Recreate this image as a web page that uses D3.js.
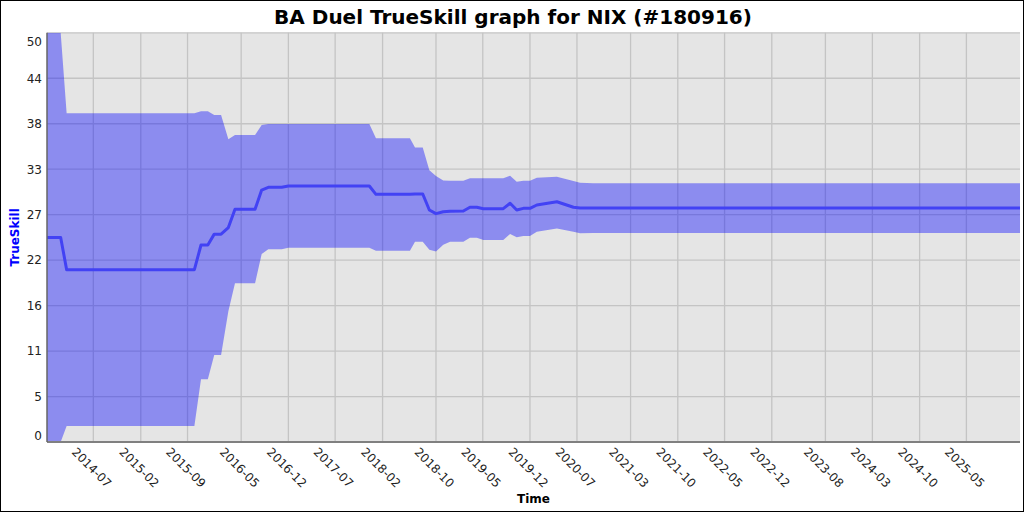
<!DOCTYPE html>
<html>
<head>
<meta charset="utf-8">
<script src="https://cdn.jsdelivr.net/npm/d3@7"></script>
<style>
  html, body { margin: 0; padding: 0; background: #fff; }
  svg { display: block; }
  text { font-family: "DejaVu Sans", sans-serif; }
</style>
</head>
<body>
<svg id="chart" width="1024" height="512"></svg>
<script>
// ---- data ----
const dates = [
  "2013-12-03","2014-02-03","2014-03-02","2015-10-02","2015-11-01","2015-12-02",
  "2015-12-31","2016-01-31","2016-03-04","2016-04-03","2016-07-03","2016-08-02",
  "2016-09-01","2016-11-01","2016-12-01","2017-12-03","2018-01-02","2018-06-05",
  "2018-06-28","2018-08-02","2018-09-01","2018-10-01","2018-11-03","2018-12-04",
  "2019-02-02","2019-03-04","2019-04-04","2019-05-04","2019-08-02","2019-09-02",
  "2019-10-02","2019-11-01","2019-12-01","2020-01-01","2020-04-01","2020-06-15",
  "2020-07-15","2020-09-13","2025-12-30"
];
const mu = [
  25.0, 25.0, 21.05, 21.05, 24.07, 24.07,
  25.4, 25.4, 26.2, 28.45, 28.45, 30.79,
  31.12, 31.12, 31.28, 31.28, 30.26, 30.26,
  30.3, 30.3, 28.35, 27.9, 28.14, 28.2,
  28.23, 28.68, 28.68, 28.51, 28.51, 29.17,
  28.35, 28.55, 28.55, 28.96, 29.36, 28.68,
  28.59, 28.6, 28.6
];
const lower = [
  0, 0, 1.95, 1.95, 7.66, 7.66,
  10.63, 10.63, 15.97, 19.39, 19.39, 22.97,
  23.55, 23.55, 23.74, 23.74, 23.38, 23.38,
  24.48, 24.48, 23.5, 23.28, 24.1, 24.48,
  24.48, 24.97, 24.97, 24.68, 24.68, 25.42,
  25.01, 25.17, 25.17, 25.7, 26.1, 25.7,
  25.5, 25.55, 25.55
];
const upper = [
  50, 50, 40.16, 40.16, 40.4, 40.4,
  39.96, 39.96, 37.0, 37.5, 37.5, 38.73,
  38.86, 38.86, 38.86, 38.86, 37.1, 37.1,
  36.0, 36.0, 33.2, 32.5, 31.95, 31.93,
  31.93, 32.22, 32.22, 32.22, 32.22, 32.54,
  31.8, 31.93, 31.93, 32.3, 32.42, 31.89,
  31.69, 31.62, 31.62
];
const xTickDates = [
  "2014-07-01","2015-02-01","2015-09-01","2016-05-01","2016-12-01","2017-07-01",
  "2018-02-01","2018-10-01","2019-05-01","2019-12-01","2020-07-01","2021-03-01",
  "2021-10-01","2022-05-01","2022-12-01","2023-08-01","2024-03-01","2024-10-01",
  "2025-05-01"
];
const yTicks = [0, 5.556, 11.111, 16.667, 22.222, 27.778, 33.333, 38.889, 44.444, 50];
const yTickLabels = ["0","5","11","16","22","27","33","38","44","50"];
const xDomain = ["2013-12-03", "2025-12-30"];
const yDomain = [0, 50];
const titleText = "BA Duel TrueSkill graph for NIX (#180916)";

// ---- layout ----
const W = 1024, H = 512;
const plot = { left: 47, right: 1020, top: 32.8, bottom: 442 };
const parse = d3.utcParse("%Y-%m-%d");
const fmt = d3.utcFormat("%Y-%m");

const rows = dates.map((d, i) => ({ date: parse(d), mu: mu[i], lo: lower[i], hi: upper[i] }));

const x = d3.scaleUtc().domain(xDomain.map(parse)).range([plot.left, plot.right]);
const y = d3.scaleLinear().domain(yDomain).range([plot.bottom, plot.top]);

const svg = d3.select("#chart");

// outer background and border
svg.append("rect").attr("x", 0.5).attr("y", 0.5).attr("width", W - 1).attr("height", H - 1)
  .attr("fill", "#fff").attr("stroke", "#000").attr("stroke-width", 1);

// title
svg.append("text").attr("x", 513).attr("y", 24).attr("text-anchor", "middle")
  .attr("font-size", 20).attr("font-weight", "bold").attr("fill", "#000").text(titleText);

// plot background
svg.append("rect").attr("x", plot.left).attr("y", plot.top)
  .attr("width", plot.right - plot.left).attr("height", plot.bottom - plot.top)
  .attr("fill", "#e5e5e5");

svg.append("defs").append("clipPath").attr("id", "clip").append("rect")
  .attr("x", plot.left).attr("y", plot.top)
  .attr("width", plot.right - plot.left).attr("height", plot.bottom - plot.top);

// grid
const grid = svg.append("g");
grid.selectAll("line.vg").data(xTickDates.map(parse)).enter().append("line")
  .attr("x1", d => x(d)).attr("x2", d => x(d))
  .attr("y1", plot.top).attr("y2", plot.bottom)
  .attr("stroke", "#c4c4c4").attr("stroke-width", 1.3);
grid.selectAll("line.hg").data(yTicks).enter().append("line")
  .attr("x1", plot.left).attr("x2", plot.right)
  .attr("y1", d => y(d)).attr("y2", d => y(d))
  .attr("stroke", "#c4c4c4").attr("stroke-width", 1.3);

// band
const area = d3.area().x(d => x(d.date)).y0(d => y(d.lo)).y1(d => y(d.hi));
svg.append("path").datum(rows).attr("clip-path", "url(#clip)")
  .attr("d", area).attr("fill", "rgba(0,0,255,0.39)");

// mean line
const line = d3.line().x(d => x(d.date)).y(d => y(d.mu));
svg.append("path").datum(rows).attr("clip-path", "url(#clip)")
  .attr("d", line).attr("fill", "none").attr("stroke", "#4242f4")
  .attr("stroke-width", 3).attr("stroke-linejoin", "round");

// axes lines
svg.append("line").attr("x1", plot.left).attr("x2", plot.right)
  .attr("y1", plot.bottom).attr("y2", plot.bottom)
  .attr("stroke", "#808080").attr("stroke-width", 2);
svg.append("line").attr("x1", plot.left).attr("x2", plot.left)
  .attr("y1", plot.top).attr("y2", plot.bottom)
  .attr("stroke", "#666").attr("stroke-width", 1.5);

// y tick labels
svg.append("g").selectAll("text").data(yTicks).enter().append("text")
  .attr("x", plot.left - 5)
  .attr("y", d => Math.min(Math.max(y(d), plot.top + 9), plot.bottom - 6))
  .attr("dy", "0.36em").attr("text-anchor", "end")
  .attr("font-size", 12).attr("fill", "#222")
  .text((d, i) => yTickLabels[i]);

// x tick labels (rotated 45°)
svg.append("g").selectAll("text").data(xTickDates.map(parse)).enter().append("text")
  .attr("transform", d => `translate(${x(d) - 1.5},467.5) rotate(45)`)
  .attr("dy", "0.36em").attr("text-anchor", "middle")
  .attr("font-size", 12).attr("fill", "#222")
  .text(d => fmt(d));

// axis titles
svg.append("text").attr("x", (plot.left + plot.right) / 2).attr("y", 503)
  .attr("text-anchor", "middle").attr("font-size", 12).attr("font-weight", "bold")
  .attr("fill", "#000").text("Time");
svg.append("text").attr("transform", `translate(19,${(plot.top + plot.bottom) / 2}) rotate(-90)`)
  .attr("text-anchor", "middle").attr("font-size", 12).attr("font-weight", "bold")
  .attr("fill", "#0000ff").text("TrueSkill");
</script>
</body>
</html>
